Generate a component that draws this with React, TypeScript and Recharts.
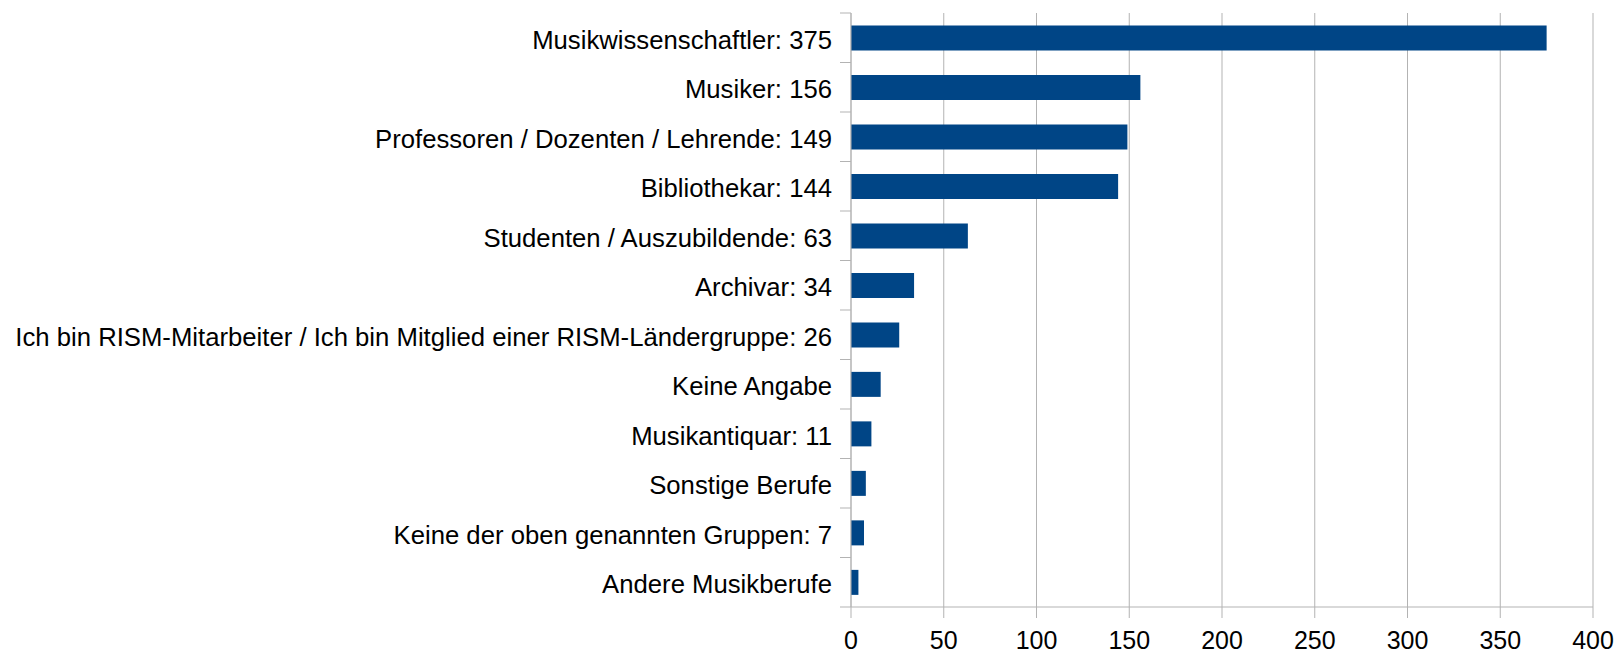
import { BarChart, Bar, XAxis, YAxis, CartesianGrid } from 'recharts';

const categories = [
  'Musikwissenschaftler: 375',
  'Musiker: 156',
  'Professoren / Dozenten / Lehrende: 149',
  'Bibliothekar: 144',
  'Studenten / Auszubildende: 63',
  'Archivar: 34',
  'Ich bin RISM-Mitarbeiter / Ich bin Mitglied einer RISM-Ländergruppe: 26',
  'Keine Angabe',
  'Musikantiquar: 11',
  'Sonstige Berufe',
  'Keine der oben genannten Gruppen: 7',
  'Andere Musikberufe',
];

const counts = [375, 156, 149, 144, 63, 34, 26, 16, 11, 8, 7, 4];

const xTicks = [0, 50, 100, 150, 200, 250, 300, 350, 400];

const data = categories.map((name, i) => ({ name, count: counts[i] }));

const WIDTH = 1615;
const HEIGHT = 654;
const GRID = '#b3b3b3';
const FONT = '"Liberation Sans", Arial, sans-serif';
const PLOT_H = 594;

function CategoryTick(props: any) {
  const { x, y, payload, index, visibleTicksCount } = props;
  const half = payload?.offset ? payload.offset : PLOT_H / categories.length / 2;
  return (
    <g>
      <line x1={x - 11} x2={x} y1={y - half} y2={y - half} stroke={GRID} />
      {index === visibleTicksCount - 1 && (
        <line x1={x - 11} x2={x} y1={y + half} y2={y + half} stroke={GRID} />
      )}
      <text
        x={x - 19}
        y={y + 2}
        dy="0.355em"
        textAnchor="end"
        fill="#000"
        fontSize={25.7}
        fontFamily={FONT}
      >
        {payload.value}
      </text>
    </g>
  );
}

export default function App() {
  return (
    <div style={{ position: 'absolute', left: 0, top: 0, background: '#fff' }}>
      <BarChart
        width={WIDTH}
        height={HEIGHT}
        data={data}
        layout="vertical"
        barCategoryGap="25%"
        margin={{ top: 13, right: 22, left: 0, bottom: 0 }}
      >
        <CartesianGrid horizontal={false} stroke={GRID} strokeWidth={1} />
        <XAxis
          type="number"
          domain={[0, 400]}
          ticks={xTicks}
          interval={0}
          height={47}
          tickSize={11}
          tickMargin={13}
          axisLine={{ stroke: GRID }}
          tickLine={{ stroke: GRID }}
          tick={{ fill: '#000', fontSize: 25, fontFamily: FONT }}
        />
        <XAxis
          xAxisId="top"
          orientation="top"
          type="number"
          domain={[0, 400]}
          height={0}
          tick={false}
          tickLine={false}
          axisLine={{ stroke: GRID }}
        />
        <YAxis
          type="category"
          dataKey="name"
          width={851}
          interval={0}
          tickSize={0}
          tickMargin={0}
          tickLine={false}
          axisLine={{ stroke: GRID }}
          tick={<CategoryTick />}
        />
        <Bar dataKey="count" fill="#004586" isAnimationActive={false} />
      </BarChart>
    </div>
  );
}
